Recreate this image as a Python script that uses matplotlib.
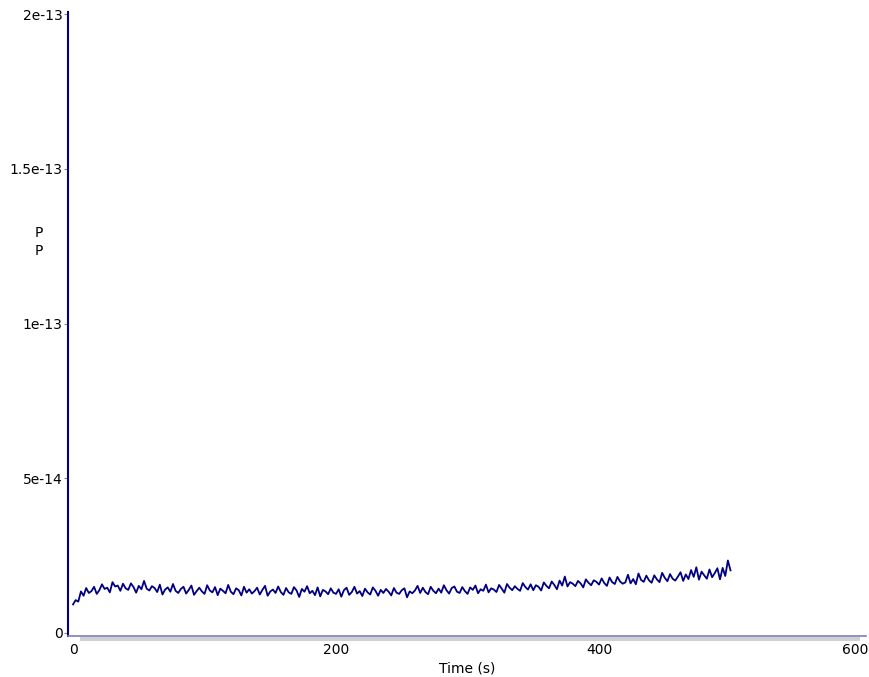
import numpy as np
import matplotlib
matplotlib.use('Agg')
import matplotlib.pyplot as plt
import matplotlib.transforms as mtransforms
from matplotlib.patches import Rectangle

# time axis, one sample every 2 s
time_s = np.arange(0, 501, 2)

# values, in units of 1e-15
p_e15 = [
	9.2, 10.6, 10.1, 13.4, 12.0, 14.5, 12.9, 13.5, 14.9, 12.6,
	13.8, 15.7, 14.2, 14.6, 13.1, 16.4, 15.0, 15.3, 13.6, 15.9,
	14.4, 13.9, 16.0, 14.8, 13.0, 15.2, 14.1, 16.8, 14.3, 13.7,
	15.1, 14.5, 13.2, 15.6, 12.4, 14.0, 14.7, 13.3, 15.8, 13.6,
	12.9, 14.2, 14.9, 12.7, 13.9, 15.3, 12.3, 13.5, 14.6, 13.4,
	12.6, 15.4, 13.7, 13.1, 14.8, 12.2, 14.3, 13.6, 12.8, 15.5,
	13.3, 12.5, 14.4, 13.8, 12.1, 14.9, 13.0, 14.1, 12.7, 13.5,
	14.6, 12.4, 13.9, 15.2, 12.0, 13.4, 14.0, 12.9, 15.0, 13.2,
	12.3, 14.5, 13.1, 12.6, 14.8, 13.7, 11.6, 14.2, 13.3, 15.1,
	12.8, 13.6, 12.2, 14.7, 11.8, 13.9, 13.4, 12.5, 14.4, 13.0,
	12.6, 14.1, 11.7, 13.8, 14.6, 12.3, 13.2, 14.9, 12.7, 13.5,
	11.9, 14.3, 13.1, 12.4, 14.7, 13.6, 12.0, 13.9, 12.9, 14.2,
	13.3, 12.1, 14.5, 13.0, 12.6, 13.8, 14.4, 11.5, 13.4, 12.8,
	13.7, 15.2, 12.9, 14.6, 13.2, 12.5, 14.9, 13.6, 12.8, 14.3,
	13.0, 15.4, 13.8, 12.7, 14.5, 15.0, 13.3, 12.9, 14.8, 13.5,
	12.6, 14.7, 13.9, 15.3, 12.8, 14.1, 13.6, 15.6, 13.1, 14.4,
	14.0, 13.2, 15.5, 14.3, 13.0, 15.8, 14.6, 13.8, 15.1, 14.2,
	13.6, 16.1, 14.8, 14.0, 15.7, 13.8, 15.4, 14.9, 13.7, 16.3,
	15.2, 14.4, 16.6, 15.5, 14.1, 16.9, 15.3, 18.2, 15.0, 16.4,
	15.9, 15.1, 16.8, 16.0, 14.7, 17.3, 16.2, 15.4, 17.0, 16.5,
	15.6, 17.6, 16.1, 15.2, 17.9, 16.4, 15.8, 18.1, 16.6, 15.9,
	16.3, 18.8, 16.0, 17.4, 15.7, 19.2, 17.1, 16.5, 18.5, 17.0,
	16.2, 18.6, 17.3, 16.4, 19.4, 17.8, 16.7, 19.0, 17.5, 16.9,
	18.2, 19.6, 16.8, 18.9, 17.4, 20.3, 18.1, 21.2, 17.2, 19.8,
	18.6, 17.5, 20.5, 18.0, 19.3, 20.9, 17.3, 21.0, 18.4, 23.4,
	20.2,
]

y_ticks = [0, 5e-14, 1e-13, 1.5e-13, 2e-13]
y_tick_labels = ['0', '5e-14', '1e-13', '1.5e-13', '2e-13']
x_ticks = [0, 200, 400, 600]
x_tick_labels = ['0', '200', '400', '600']

def main():
	p = np.array(p_e15) * 1e-15

	fig = plt.figure(figsize=(8.69, 6.77), dpi=100)
	ax = fig.add_axes([0.0783, 0.0606, 0.9182, 0.9217])

	ax.plot(time_s, p, color='#000080', linewidth=1.3)

	ax.set_xlim(-3.8, 603)
	ax.set_ylim(-1e-15, 2.007e-13)

	ax.set_yticks(y_ticks)
	ax.set_yticklabels(y_tick_labels, fontsize=10)
	ax.set_xticks(x_ticks)
	ax.set_xticklabels(x_tick_labels, fontsize=10)
	ax.tick_params(axis='y', length=3, width=0.8, color='#888888', pad=1)
	ax.tick_params(axis='x', length=0, pad=5)

	# keep the last x label inside the figure
	last = ax.get_xticklabels()[-1]
	last.set_transform(last.get_transform() + mtransforms.ScaledTranslation(-7 / 100, 0, fig.dpi_scale_trans))

	for s in ['top', 'right']:
		ax.spines[s].set_visible(False)
	ax.spines['left'].set_color('#000080')
	ax.spines['left'].set_linewidth(1.5)
	ax.spines['bottom'].set_color('#7b7bc4')
	ax.spines['bottom'].set_linewidth(1.2)

	# grey band under the x axis
	fig.patches.append(Rectangle((80 / 869, 1 - 641 / 677), 780 / 869, 4 / 677,
		transform=fig.transFigure, facecolor='#d0d0d0', edgecolor='none'))

	ax.set_xlabel('Time (s)', fontsize=10, labelpad=3)
	fig.text(39 / 869, 1 - 242 / 677, 'P\nP', ha='center', va='center', fontsize=10, linespacing=1.4)

	fig.savefig('out.png', dpi=100)

if __name__ == '__main__':
	main()
